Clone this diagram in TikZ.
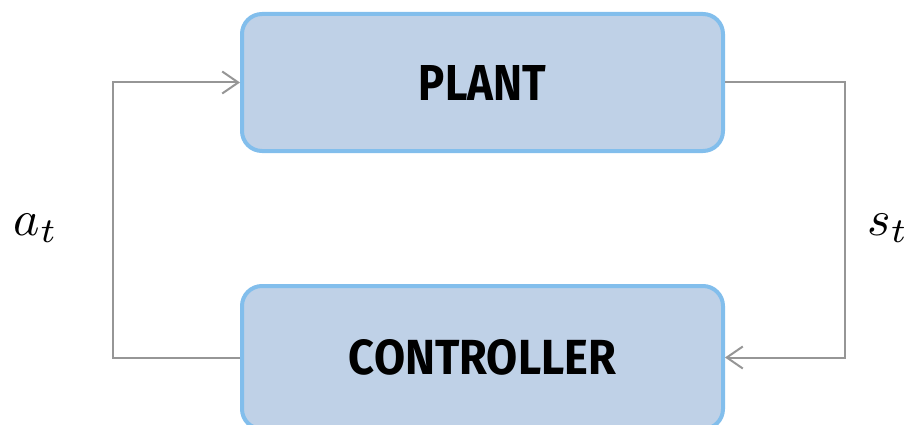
\documentclass[tikz,border=0pt]{standalone}
\usepackage{fontspec}
\setmainfont{Fira Sans}
\usetikzlibrary{arrows.meta}
\definecolor{boxfill}{HTML}{BFD1E7}
\definecolor{boxedge}{HTML}{82BEEC}
\definecolor{wire}{HTML}{969696}
\tikzset{
  block/.style={draw=boxedge, fill=boxfill, line width=4pt, rounded corners=20pt,
    minimum width=481pt, minimum height=137pt, inner sep=0pt},
  wireline/.style={draw=wire, line width=2pt, -{Straight Barb[length=16pt,width=22pt,line width=2pt]}},
  lbl/.style={inner sep=0pt}
}
\begin{document}
\begin{tikzpicture}[x=1pt,y=1pt]
  \useasboundingbox (0,0) rectangle (915,424);
  \node[block] (plant) at (482.5,341.5) {\resizebox{127pt}{35pt}{\bfseries PLANT}};
  \node[block, minimum height=143pt] (ctrl) at (482.5,66.5) {\resizebox{267pt}{35pt}{\bfseries CONTROLLER}};
  \coordinate (lturn) at (113,66.5);
  \coordinate (rturn) at (845,341.5);
  \draw[wireline] (ctrl.west) -- (lturn) |- (plant.west);
  \draw[wireline] (plant.east) -- (rturn) |- (ctrl.east);
  \node[lbl] (at) at (36,196) {\scalebox{5}{$a_t$}};
  \node[lbl] (st) at (888,196) {\scalebox{5}{$s_t$}};
\end{tikzpicture}
\end{document}
